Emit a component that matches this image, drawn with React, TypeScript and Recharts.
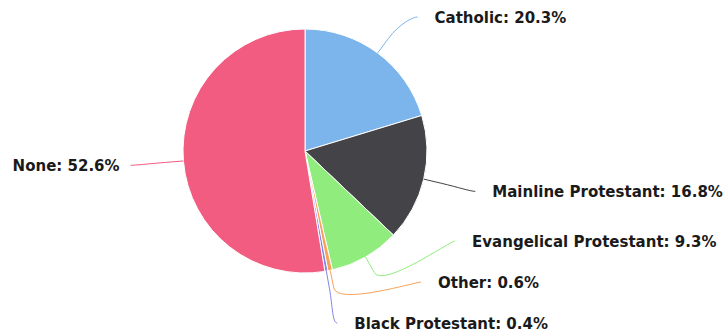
import { Pie, PieChart, Cell } from "recharts";

const religions = [
  "Catholic",
  "Mainline Protestant",
  "Evangelical Protestant",
  "Other",
  "Black Protestant",
  "None",
];
const shares = [20.3, 16.8, 9.3, 0.6, 0.4, 52.6];
const colors = ["#7cb5ec", "#434348", "#90ed7d", "#f7a35c", "#8085e9", "#f15c80"];

const data = religions.map((name, i) => ({ name, value: shares[i] }));

const CX = 305;
const CY = 151;
const R = 122;
const LABEL_R = 175;
const BREAK_R = 140;
const TOP = 17;
const BOTTOM = 323;
const GAP = 41;
const RAD = Math.PI / 180;

// highcharts-ish label placement: natural spot on a bigger circle, then
// push labels apart on each side so they don't collide
function layoutLabels() {
  const total = shares.reduce((a, b) => a + b, 0);
  let acc = 0;
  const items = shares.map((v, i) => {
    const mid = 90 - ((acc + v / 2) / total) * 360;
    acc += v;
    const right = Math.cos(mid * RAD) >= 0;
    return { i, right, y: Math.max(TOP, CY - LABEL_R * Math.sin(mid * RAD)) };
  });
  [true, false].forEach((side) => {
    const list = items.filter((it) => it.right === side).sort((a, b) => a.y - b.y);
    for (let k = 1; k < list.length; k++) {
      list[k].y = Math.max(list[k].y, list[k - 1].y + GAP);
    }
    if (list.length) list[list.length - 1].y = Math.min(list[list.length - 1].y, BOTTOM);
    for (let k = list.length - 2; k >= 0; k--) {
      list[k].y = Math.min(list[k].y, list[k + 1].y - GAP);
    }
  });
  const out: { right: boolean; y: number }[] = [];
  items.forEach((it) => (out[it.i] = { right: it.right, y: it.y }));
  return out;
}

const labelSpots = layoutLabels();

function renderLabel(props: any) {
  const { cx, cy, midAngle, outerRadius, index, name, value } = props;
  const spot = labelSpots[index];
  const c = Math.cos(-midAngle * RAD);
  const s = Math.sin(-midAngle * RAD);
  const touch = { x: cx + outerRadius * c, y: cy + outerRadius * s };
  const brk = { x: cx + BREAK_R * c, y: cy + BREAK_R * s };
  const dy = spot.y - cy;
  const dx = Math.sqrt(Math.max(0, LABEL_R * LABEL_R - dy * dy));
  const endX = spot.right ? cx + dx : cx - dx;
  const path =
    `M${endX},${spot.y} C${endX + (spot.right ? -5 : 5)},${spot.y} ` +
    `${2 * brk.x - touch.x},${2 * brk.y - touch.y} ${brk.x},${brk.y} L${touch.x},${touch.y}`;
  return (
    <g>
      <path d={path} fill="none" stroke={colors[index]} strokeWidth={1} />
      <text
        x={spot.right ? endX + 17 : endX - 11}
        y={spot.y + 1}
        textAnchor={spot.right ? "start" : "end"}
        dominantBaseline="central"
        fontFamily="DejaVu Sans, sans-serif"
        fontWeight="bold"
        fontSize={15}
        fill="#1a1a1a"
      >
        {`${name}: ${Number(value).toFixed(1)}%`}
      </text>
    </g>
  );
}

export default function App() {
  return (
    <div style={{ position: "absolute", left: 0, top: 0, width: 727, height: 333, background: "#fff" }}>
      <PieChart
        width={727}
        height={333}
        margin={{ top: 0, right: 0, bottom: 0, left: 0 }}
        style={{ overflow: "visible" }}
      >
        <Pie
          data={data}
          dataKey="value"
          nameKey="name"
          cx={CX}
          cy={CY}
          outerRadius={R}
          startAngle={90}
          endAngle={-270}
          stroke="#fff"
          strokeWidth={1}
          label={renderLabel}
          labelLine={false}
          isAnimationActive={false}
        >
          {data.map((d, i) => (
            <Cell key={d.name} fill={colors[i]} />
          ))}
        </Pie>
      </PieChart>
    </div>
  );
}
